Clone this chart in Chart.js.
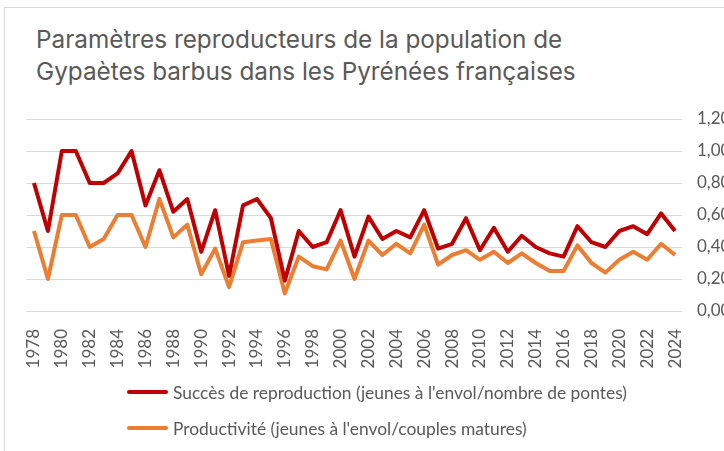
<!DOCTYPE html>
<html lang="fr">

<head>
    <meta charset="UTF-8">
    <title>Gypaètes barbus - paramètres reproducteurs</title>
    <script src="https://cdn.jsdelivr.net/npm/chart.js@4.4.1/dist/chart.umd.min.js"></script>
    <style>
        html, body {
            margin: 0;
            padding: 0;
            width: 724px;
            height: 451px;
            overflow: hidden;
            background: #ffffff;
        }

        .card {
            position: absolute;
            left: 4px;
            top: 7px;
            width: 1000px;
            height: 1000px;
            border: 1px solid #d9d9d9;
        }

        .title {
            position: absolute;
            left: 36px;
            top: 23px;
            font-family: 'Inter', sans-serif;
            font-size: 24.3px;
            line-height: 32px;
            color: #595959;
            white-space: nowrap;
        }

        .chart-container {
            position: absolute;
            left: 0;
            top: 0;
            width: 760px;
            height: 451px;
        }

        .legend {
            position: absolute;
            left: 127px;
            top: 374px;
            font-family: 'Lato', sans-serif;
            font-size: 17.4px;
            color: #595959;
        }

        .legend-item {
            display: flex;
            align-items: center;
            height: 36px;
        }

        .legend-line {
            display: inline-block;
            width: 41px;
            height: 4px;
            border-radius: 2px;
            margin-right: 5px;
        }
    </style>
</head>

<body>
    <div class="card"></div>
    <div class="title">Paramètres reproducteurs de la population de<br>Gypaètes barbus dans les Pyrénées françaises</div>
    <div class="chart-container">
        <canvas id="myChart"></canvas>
    </div>
    <div class="legend" id="legend"></div>

    <script>
        const years = [];
        for (let y = 1978; y <= 2024; y++) years.push(String(y));

        // jeunes à l'envol / nombre de pontes
        const succes = [
            0.80, 0.50, 1.00, 1.00, 0.80, 0.80, 0.86, 1.00, 0.66, 0.88,
            0.62, 0.70, 0.37, 0.63, 0.22, 0.66, 0.70, 0.58, 0.19, 0.50,
            0.40, 0.43, 0.63, 0.34, 0.59, 0.45, 0.50, 0.46, 0.63, 0.39,
            0.42, 0.58, 0.38, 0.52, 0.37, 0.47, 0.40, 0.36, 0.34, 0.53,
            0.43, 0.40, 0.50, 0.53, 0.48, 0.61, 0.50
        ];

        // jeunes à l'envol / couples matures
        const productivite = [
            0.50, 0.20, 0.60, 0.60, 0.40, 0.45, 0.60, 0.60, 0.40, 0.70,
            0.46, 0.54, 0.23, 0.39, 0.15, 0.43, 0.44, 0.45, 0.11, 0.34,
            0.28, 0.26, 0.44, 0.20, 0.44, 0.35, 0.42, 0.36, 0.54, 0.29,
            0.35, 0.38, 0.32, 0.37, 0.30, 0.36, 0.30, 0.25, 0.25, 0.41,
            0.30, 0.24, 0.32, 0.37, 0.32, 0.42, 0.35
        ];

        const labelFont = {
            family: 'Lato',
            size: 17
        };

        const data = {
            labels: years,
            datasets: [{
                    label: "Succès de reproduction (jeunes à l'envol/nombre de pontes)",
                    data: succes,
                    borderColor: '#c00000',
                    backgroundColor: '#c00000',
                    borderWidth: 4,
                    pointRadius: 0,
                    tension: 0,
                    borderJoinStyle: 'round'
                },
                {
                    label: "Productivité (jeunes à l'envol/couples matures)",
                    data: productivite,
                    borderColor: '#ed7d31',
                    backgroundColor: '#ed7d31',
                    borderWidth: 4,
                    pointRadius: 0,
                    tension: 0,
                    borderJoinStyle: 'round'
                }
            ]
        };

        const config = {
            type: 'line',
            data,
            options: {
                responsive: true,
                maintainAspectRatio: false,
                animation: false,
                layout: {
                    padding: {
                        left: 27,
                        right: 18,
                        top: 119,
                        bottom: 20
                    }
                },
                scales: {
                    x: {
                        offset: true,
                        afterFit: scale => {
                            scale.height = 120;
                        },
                        grid: {
                            display: false
                        },
                        border: {
                            display: false
                        },
                        ticks: {
                            autoSkip: false,
                            minRotation: 90,
                            maxRotation: 90,
                            padding: 10,
                            color: '#595959',
                            font: labelFont,
                            callback: function (value, index) {
                                return index % 2 === 0 ? this.getLabelForValue(value) : '';
                            }
                        }
                    },
                    y: {
                        position: 'right',
                        min: 0,
                        max: 1.2,
                        afterFit: scale => {
                            scale.width = 60;
                        },
                        grid: {
                            color: '#d9d9d9',
                            lineWidth: 1,
                            drawTicks: false
                        },
                        border: {
                            display: false
                        },
                        ticks: {
                            stepSize: 0.2,
                            padding: 15,
                            color: '#595959',
                            font: labelFont,
                            callback: v => v.toFixed(2).replace('.', ',')
                        }
                    }
                },
                plugins: {
                    legend: {
                        display: false
                    },
                    tooltip: {
                        enabled: false
                    }
                }
            }
        };

        const ctx = document.getElementById('myChart').getContext('2d');
        const myChart = new Chart(ctx, config);

        // legend in two left-aligned rows, like the original
        const legendBox = document.getElementById('legend');
        myChart.data.datasets.forEach(ds => {
            const item = document.createElement('div');
            item.className = 'legend-item';
            const line = document.createElement('span');
            line.className = 'legend-line';
            line.style.background = ds.borderColor;
            const text = document.createElement('span');
            text.textContent = ds.label;
            item.appendChild(line);
            item.appendChild(text);
            legendBox.appendChild(item);
        });
    </script>

</body>

</html>
